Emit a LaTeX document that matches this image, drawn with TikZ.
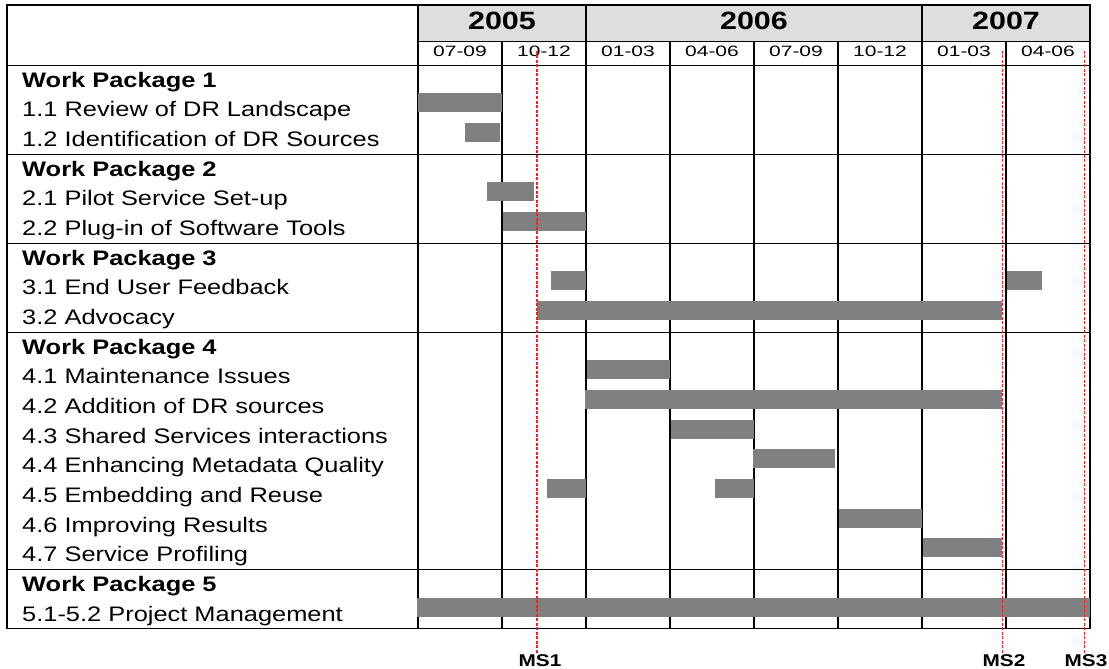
\documentclass[tikz,border=0pt]{standalone}
\usepackage{fontspec}
\setmainfont{Liberation Sans}
\newfontfamily\rowf[FakeStretch=1.21]{Liberation Sans}
\newfontfamily\yearf[FakeStretch=1.22]{Liberation Sans}
\newfontfamily\monf[FakeStretch=1.4]{Liberation Sans}
\newfontfamily\msf[FakeStretch=1.22]{Liberation Sans}
\definecolor{bargray}{RGB}{128,128,128}
\definecolor{yeargray}{RGB}{222,222,222}
\definecolor{msred}{RGB}{250,30,30}
\begin{document}
\begin{tikzpicture}[x=1pt,y=-1pt,
  gridline/.style={line width=1.2pt,black},
  barbox/.style={fill=bargray,draw=none},
  msline/.style={msred,line width=1.3pt,dash pattern=on 3pt off 1.5pt},
  rowlabel/.style={anchor=base west,inner sep=0pt,font=\rowf\fontsize{21}{24}\selectfont},
  wplabel/.style={rowlabel,font=\rowf\bfseries\fontsize{21}{24}\selectfont},
  yearlabel/.style={anchor=base,inner sep=0pt,font=\yearf\bfseries\fontsize{25}{28}\selectfont},
  monthlabel/.style={anchor=base,inner sep=0pt,font=\monf\fontsize{15}{17}\selectfont},
  mslabel/.style={anchor=base,inner sep=0pt,font=\msf\bfseries\fontsize{17}{19}\selectfont}]
\useasboundingbox (0,0) rectangle (1109,669);
\def\H{65.5}\def\R{29.65}\def\B{628.85}
% year row fill
\fill[yeargray] (418,5) rectangle (1090,41.5);
% grid
\draw[gridline] (7,5) rectangle (1090,\B);
\draw[gridline] (418,41.5) -- (1090,41.5);
\draw[gridline] (7,\H) -- (1090,\H);
\foreach \r in {3,6,9,17} \draw[gridline] (7,{\H+\r*\R}) -- (1090,{\H+\r*\R});
\foreach \x in {418,586,922} \draw[gridline] (\x,5) -- (\x,\B);
\foreach \x in {502,670,754,838,1006} \draw[gridline] (\x,41.5) -- (\x,\B);
% years
\node[yearlabel] (y2005) at (502,29.3) {2005};
\node[yearlabel] (y2006) at (754,29.3) {2006};
\node[yearlabel] (y2007) at (1006,29.3) {2007};
% months
\foreach \i/\m in {0/07-09,1/10-12,2/01-03,3/04-06,4/07-09,5/10-12,6/01-03,7/04-06}
  \node[monthlabel] (m\i) at ({460+84*\i},56.5) {\m};
% row labels
\foreach \r/\t in {0/Work Package 1,3/Work Package 2,6/Work Package 3,9/Work Package 4,17/Work Package 5}
  \node[wplabel] (r\r) at (22,{\H+(\r+0.5)*\R+7}) {\t};
\foreach \r/\t in {1/1.1 Review of DR Landscape,2/1.2 Identification of DR Sources,
  4/2.1 Pilot Service Set-up,5/2.2 Plug-in of Software Tools,
  7/3.1 End User Feedback,8/3.2 Advocacy,
  10/4.1 Maintenance Issues,11/4.2 Addition of DR sources,12/4.3 Shared Services interactions,
  13/4.4 Enhancing Metadata Quality,14/4.5 Embedding and Reuse,15/4.6 Improving Results,
  16/4.7 Service Profiling,18/5.1-5.2 Project Management}
  \node[rowlabel] (r\r) at (22,{\H+(\r+0.5)*\R+7}) {\t};
% bars
\foreach \r/\a/\b in {1/418/502,2/465/500,4/487/534,5/503/586,7/551/586,7/1007/1042,
  8/537/1002,10/587/670,11/585/1002,12/671/754,13/753/835,14/547/586,14/715/754,
  15/839/922,16/923/1002,18/417/1090}
  \fill[barbox] (\a,{\H+(\r+0.5)*\R-16.5}) rectangle (\b,{\H+(\r+0.5)*\R+2.5});
% milestones
\node[mslabel] (ms1) at (540,666) {MS1};
\node[mslabel] (ms2) at (1004,666) {MS2};
\node[mslabel] (ms3) at (1086,666) {MS3};
\coordinate (ms1top) at (537,51);
\coordinate (ms2top) at (1002.6,51);
\coordinate (ms3top) at (1084.5,51);
\draw[msline] (ms1top) -- (ms1top |- ms1.north);
\draw[msline] (ms2top) -- (ms2top |- ms2.north);
\draw[msline] (ms3top) -- (ms3top |- ms3.north);
\end{tikzpicture}
\end{document}
